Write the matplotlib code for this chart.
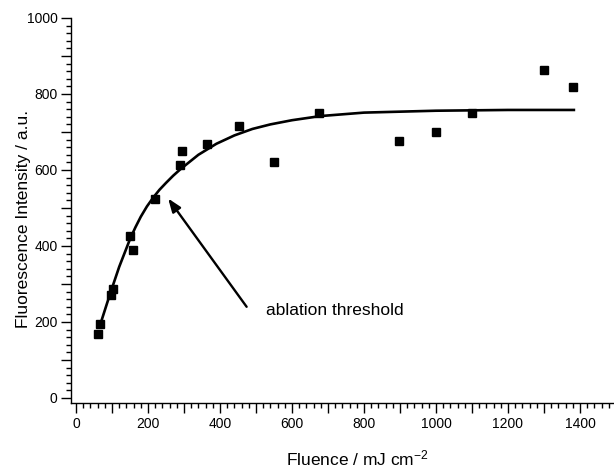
import matplotlib
matplotlib.use('Agg')
import matplotlib.pyplot as plt
from matplotlib.ticker import MultipleLocator, FuncFormatter

plt.rcParams['font.family'] = ['Liberation Sans', 'DejaVu Sans']
plt.rcParams['mathtext.fontset'] = 'custom'
plt.rcParams['mathtext.rm'] = 'Liberation Sans'
plt.rcParams['mathtext.it'] = 'Liberation Sans'

# measured points
fluence = [60, 67, 96, 104, 150, 159, 220, 288, 294, 364, 453, 551,
           676, 896, 1000, 1101, 1300, 1380]
intensity = [168, 194, 271, 288, 426, 390, 523, 612, 651, 669, 716, 622,
             749, 676, 700, 749, 864, 819]

# fit curve
fit_x = [68, 94, 120, 150, 165, 180, 197, 215, 232, 250, 270, 290, 340,
         390, 440, 490, 540, 600, 680, 800, 1000, 1200, 1383]
fit_y = [195, 272, 345, 418, 449, 477, 504, 528, 548, 566, 585, 602, 640,
         669, 691, 708, 720, 731, 742, 751, 756, 758, 758]

arrow_tip = (256, 525)
arrow_tail = (474, 240)
note_pos = (528, 229)

fig = plt.figure(figsize=(6.14, 4.68), dpi=100)
ax = fig.add_axes([71.3 / 614, 64.7 / 468, 544.7 / 614, 385.3 / 468])

ax.plot(fit_x, fit_y, '-', color='black', lw=1.9, solid_joinstyle='round')
ax.plot(fluence, intensity, 's', color='black', ms=6, mec='black')

ax.annotate('', xy=arrow_tip, xytext=arrow_tail,
            arrowprops=dict(arrowstyle='-|>,head_length=0.8,head_width=0.3',
                            color='black', lw=1.7, shrinkA=0, shrinkB=0))
ax.text(note_pos[0], note_pos[1], 'ablation threshold', fontsize=12.5,
        ha='left', va='center')

ax.set_xlim(-13, 1500)
ax.set_ylim(-14, 1000)

ax.spines['top'].set_visible(False)
ax.spines['right'].set_visible(False)
for s in ['left', 'bottom']:
    ax.spines[s].set_linewidth(1.0)

ax.xaxis.set_major_locator(MultipleLocator(100))
ax.xaxis.set_minor_locator(MultipleLocator(20))
ax.yaxis.set_major_locator(MultipleLocator(100))
ax.yaxis.set_minor_locator(MultipleLocator(20))
lab = FuncFormatter(lambda v, p: '%d' % v if round(v) % 200 == 0 else '')
ax.xaxis.set_major_formatter(lab)
ax.yaxis.set_major_formatter(lab)
ax.tick_params(which='major', direction='out', length=7, width=1.0,
               labelsize=10, pad=3)
ax.tick_params(which='minor', direction='out', length=3.5, width=1.0)

ax.set_xlabel('Fluence / mJ cm$^{-2}$', fontsize=12.5)
ax.set_ylabel('Fluorescence Intensity / a.u.', fontsize=12.5)
ax.xaxis.set_label_coords(0.525, -0.118)
ax.yaxis.set_label_coords(-0.074, 0.478)

fig.savefig('out.png', dpi=100)
